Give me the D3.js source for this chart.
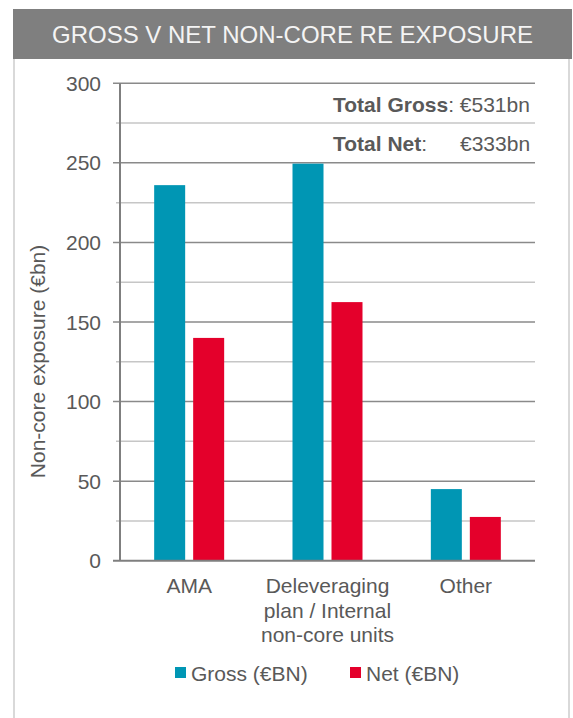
<!DOCTYPE html>
<html>
<head>
<meta charset="utf-8">
<script src="https://cdn.jsdelivr.net/npm/d3@7"></script>
<style>
  html, body { margin: 0; padding: 0; background: #ffffff; }
  svg { display: block; font-family: "Liberation Sans", Arial, sans-serif; }
</style>
</head>
<body>
<svg id="chart" width="573" height="718"></svg>
<script>
// ---- data ----
const categories = [
  ["AMA"],
  ["Deleveraging", "plan / Internal", "non-core units"],
  ["Other"]
];
const categoryKeys = ["AMA", "Deleveraging plan / Internal non-core units", "Other"];
const seriesNames = ["Gross (€BN)", "Net (€BN)"];
const grossValues = [236, 249.5, 45];
const netValues = [140, 162.5, 27.5];
const yMajorTicks = [0, 50, 100, 150, 200, 250, 300];
const yMinorTicks = [25, 75, 125, 175, 225, 275];
const titleText = "GROSS V NET NON-CORE RE EXPOSURE";
const yAxisTitle = "Non-core exposure (€bn)";
const totals = [
  { label: "Total Gross", value: "€531bn" },
  { label: "Total Net", value: "€333bn" }
];

// ---- styling ----
const colors = ["#0096b4", "#e4002b"];
const textColor = "#595959";

const svg = d3.select("#chart");

// frame
svg.append("line").attr("x1", 14).attr("x2", 14).attr("y1", 59).attr("y2", 718)
  .attr("stroke", "#d9d9d9").attr("stroke-width", 2);
svg.append("line").attr("x1", 569).attr("x2", 569).attr("y1", 59).attr("y2", 718)
  .attr("stroke", "#d9d9d9").attr("stroke-width", 2);

// header
svg.append("rect").attr("x", 13).attr("y", 9).attr("width", 559).attr("height", 50)
  .attr("fill", "#7f7f7f");
svg.append("text").attr("x", 292.5).attr("y", 43).attr("text-anchor", "middle")
  .attr("fill", "#f4f4f4").attr("font-size", 24).text(titleText);

// scales
const plotLeft = 120, plotRight = 535;
const y = d3.scaleLinear().domain([0, 300]).range([560.7, 83.3]);
const x0 = d3.scaleBand().domain(categoryKeys).range([plotLeft, plotRight])
  .paddingInner(0.494).paddingOuter(0.247);
const x1 = d3.scaleBand().domain(seriesNames).range([0, x0.bandwidth()])
  .paddingInner(0.205).paddingOuter(0);

// minor gridlines
svg.append("g").selectAll("line").data(yMinorTicks).join("line")
  .attr("x1", plotLeft - 4).attr("x2", plotRight)
  .attr("y1", d => y(d)).attr("y2", d => y(d))
  .attr("stroke", "#c6c6c6").attr("stroke-width", 1.5);

// major gridlines
svg.append("g").selectAll("line").data(yMajorTicks.filter(d => d > 0)).join("line")
  .attr("x1", plotLeft - 7).attr("x2", plotRight)
  .attr("y1", d => y(d)).attr("y2", d => y(d))
  .attr("stroke", "#8a8a8a").attr("stroke-width", 1.5);

// y tick labels
svg.append("g").selectAll("text").data(yMajorTicks).join("text")
  .attr("x", 101).attr("y", d => y(d)).attr("dy", "0.36em")
  .attr("text-anchor", "end").attr("fill", textColor).attr("font-size", 21)
  .text(d => d);

// y axis title
svg.append("text")
  .attr("transform", `translate(45, 361.5) rotate(-90)`)
  .attr("text-anchor", "middle").attr("fill", textColor).attr("font-size", 21)
  .text(yAxisTitle);

// bars
const groups = svg.append("g").selectAll("g").data(categoryKeys).join("g")
  .attr("transform", d => `translate(${x0(d)},0)`);
groups.selectAll("rect")
  .data((d, i) => [grossValues[i], netValues[i]].map((v, j) => ({ s: seriesNames[j], v, j })))
  .join("rect")
  .attr("x", d => x1(d.s)).attr("width", x1.bandwidth())
  .attr("y", d => y(d.v)).attr("height", d => y(0) - y(d.v))
  .attr("fill", d => colors[d.j]);

// axes lines
svg.append("line").attr("x1", plotLeft).attr("x2", plotLeft)
  .attr("y1", y(300)).attr("y2", y(0))
  .attr("stroke", "#7f7f7f").attr("stroke-width", 2);
svg.append("line").attr("x1", plotLeft - 7).attr("x2", plotRight)
  .attr("y1", y(0)).attr("y2", y(0))
  .attr("stroke", "#7f7f7f").attr("stroke-width", 2);

// category labels
const catG = svg.append("g").selectAll("text").data(categoryKeys).join("text")
  .attr("text-anchor", "middle").attr("fill", textColor).attr("font-size", 21)
  .attr("x", d => x0(d) + x0.bandwidth() / 2).attr("y", 593.3);
catG.each(function(d, i) {
  const t = d3.select(this);
  categories[i].forEach((line, k) => {
    t.append("tspan").attr("x", x0(d) + x0.bandwidth() / 2)
      .attr("dy", k === 0 ? 0 : 24.2).text(line);
  });
});

// totals annotation
const totX = 333;
const totY = [112, 151];
totals.forEach((t, i) => {
  const txt = svg.append("text").attr("x", totX).attr("y", totY[i])
    .attr("fill", textColor).attr("font-size", 21);
  txt.append("tspan").attr("font-weight", "bold").text(t.label);
  if (i === 0) {
    txt.append("tspan").text(": " + t.value);
  } else {
    txt.append("tspan").text(":");
    svg.append("text").attr("x", 460).attr("y", totY[i])
      .attr("fill", textColor).attr("font-size", 21).text(t.value);
  }
});

// legend
const legendItems = [
  { name: seriesNames[0], color: colors[0], x: 175 },
  { name: seriesNames[1], color: colors[1], x: 350 }
];
const lg = svg.append("g").selectAll("g").data(legendItems).join("g")
  .attr("transform", d => `translate(${d.x},667)`);
lg.append("rect").attr("width", 11).attr("height", 11).attr("fill", d => d.color);
lg.append("text").attr("x", 16).attr("y", 13.7).attr("fill", textColor)
  .attr("font-size", 21).text(d => d.name);
</script>
</body>
</html>
